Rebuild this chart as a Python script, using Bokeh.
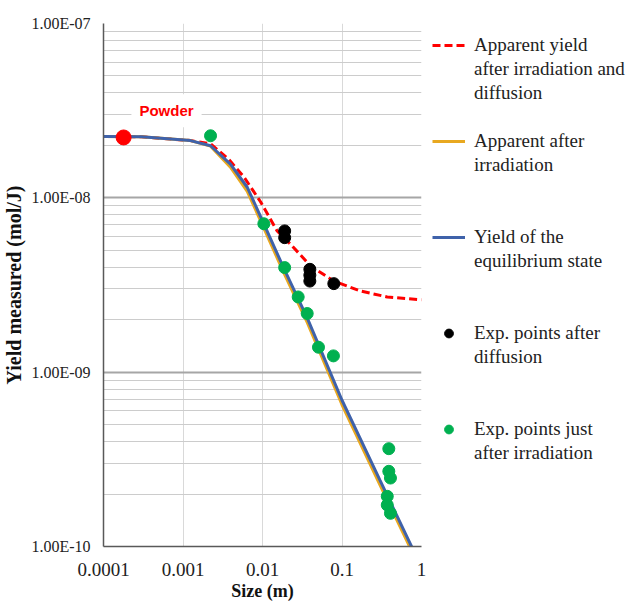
from bokeh.plotting import figure
from bokeh.models import Legend, LegendItem, Label, CustomJSTickFormatter, FixedTicker, Range1d
from bokeh.embed import file_html
from bokeh.resources import INLINE

# ---- data ----
size_model = [0.0001, 0.0003, 0.00124, 0.00222, 0.00395, 0.00643, 0.0104, 0.0185, 0.0365, 0.1, 0.3, 1.0]
yield_equilibrium = [2.25e-8, 2.24e-8, 2.13e-8, 1.99e-8, 1.56e-8, 1.15e-8, 7.1e-9, 3.95e-9, 2.05e-9, 6.9e-10, 2.4e-10, 7.6e-11]
yield_after_irr = [2.25e-8, 2.24e-8, 2.13e-8, 1.98e-8, 1.5e-8, 1.09e-8, 6.7e-9, 3.72e-9, 1.93e-9, 6.5e-10, 2.26e-10, 7.2e-11]

size_diffusion = [0.0001, 0.0003, 0.00124, 0.00222, 0.00377, 0.00582, 0.00944, 0.0153, 0.0225, 0.0402, 0.079, 0.171, 0.371, 1.0]
yield_diffusion = [2.25e-8, 2.24e-8, 2.13e-8, 2.04e-8, 1.66e-8, 1.32e-8, 9.5e-9, 6.45e-9, 5.42e-9, 4.07e-9, 3.33e-9, 2.92e-9, 2.7e-9, 2.6e-9]

exp_diff_x = [0.019, 0.019, 0.0394, 0.0394, 0.0394, 0.0789]
exp_diff_y = [6.46e-9, 5.91e-9, 3.89e-9, 3.6e-9, 3.33e-9, 3.22e-9]

exp_irr_x = [0.00222, 0.0104, 0.019, 0.0281, 0.0365, 0.0506, 0.078, 0.388, 0.388, 0.407, 0.371, 0.371, 0.407]
exp_irr_y = [2.27e-8, 7.1e-9, 3.98e-9, 2.7e-9, 2.17e-9, 1.39e-9, 1.24e-9, 3.64e-10, 2.7e-10, 2.47e-10, 1.94e-10, 1.73e-10, 1.55e-10]

powder_x = [0.000179]
powder_y = [2.22e-8]

x_ticks = [0.0001, 0.001, 0.01, 0.1, 1.0]
x_tick_labels = ["0.0001", "0.001", "0.01", "0.1", "1"]
x_tick_exps = [-4, -3, -2, -1, 0]
y_ticks = [1e-10, 1e-9, 1e-8, 1e-7]
y_tick_labels = ["1.00E-10", "1.00E-09", "1.00E-08", "1.00E-07"]
y_tick_exps = [-10, -9, -8, -7]
y_minor = [m * 10.0 ** e for e in (-10, -9, -8) for m in range(2, 10)]

legend_lines = [
    ["Apparent yield", "after irradiation and", "diffusion"],
    ["Apparent after", "irradiation"],
    ["Yield of the", "equilibrium state"],
    ["Exp. points after", "diffusion"],
    ["Exp. points just", "after irradiation"],
]
legend_gap_rows = [1, 2, 2, 2, 0]

SERIF = "Liberation Serif"

p = figure(frame_width=318, frame_height=523, x_axis_type="log", y_axis_type="log",
           x_range=Range1d(1e-4, 1.0), y_range=Range1d(1e-10, 1e-7),
           output_backend="svg", toolbar_location=None,
           min_border_left=103, min_border_right=218, min_border_top=23, min_border_bottom=60)
p.outline_line_color = None
p.background_fill_color = "white"

# ticks / formatting
p.xaxis.ticker = FixedTicker(ticks=x_ticks)
p.yaxis.ticker = FixedTicker(ticks=y_ticks, minor_ticks=y_minor)
p.xaxis.formatter = CustomJSTickFormatter(args=dict(exps=x_tick_exps, labels=x_tick_labels), code="""
const e = Math.round(Math.log10(tick)); const i = exps.indexOf(e); return i >= 0 ? labels[i] : '';
""")
p.yaxis.formatter = CustomJSTickFormatter(args=dict(exps=y_tick_exps, labels=y_tick_labels), code="""
const e = Math.round(Math.log10(tick)); const i = exps.indexOf(e); return i >= 0 ? labels[i] : '';
""")

for ax in (p.xaxis, p.yaxis):
    ax.major_tick_line_color = None
    ax.minor_tick_line_color = None
    ax.major_tick_out = 0
    ax.minor_tick_out = 0
    ax.major_tick_in = 0
    ax.minor_tick_in = 0
    ax.axis_line_color = "#595959"
    ax.axis_line_width = 1.5
    ax.major_label_text_font = SERIF
    ax.major_label_text_color = "#222222"
    ax.axis_label_text_font = SERIF
    ax.axis_label_text_font_style = "bold"
    ax.axis_label_text_color = "#111111"

p.xaxis.major_label_text_font_size = "19px"
p.yaxis.major_label_text_font_size = "16px"
p.xaxis.axis_label_text_font_size = "18px"
p.yaxis.axis_label_text_font_size = "20px"
p.xaxis.major_label_standoff = 16
p.yaxis.major_label_standoff = 13
p.xaxis.axis_label = "Size (m)"
p.yaxis.axis_label = "Yield measured (mol/J)"
p.xaxis.axis_label_standoff = 2
p.yaxis.axis_label_standoff = 3

p.xgrid.grid_line_color = "#d9d9d9"
p.xgrid.grid_line_width = 1
p.ygrid.grid_line_color = "#a6a6a6"
p.ygrid.grid_line_width = 2
p.ygrid.minor_grid_line_color = "#cccccc"
p.ygrid.minor_grid_line_width = 1

# series
r_red = p.line(size_diffusion, yield_diffusion, line_color="#ff0000", line_width=3, line_dash="8 4")
r_orange = p.line(size_model, yield_after_irr, line_color="#e8a820", line_width=3)
r_blue = p.line(size_model, yield_equilibrium, line_color="#3f62aa", line_width=3)
r_black = p.scatter(exp_diff_x, exp_diff_y, size=12, fill_color="black", line_color="black")
r_green = p.scatter(exp_irr_x, exp_irr_y, size=12, fill_color="#00b050", line_color="#00b050")
p.scatter(powder_x, powder_y, size=15, fill_color="#ff0000", line_color="#ff0000")

p.add_layout(Label(x=0.00062, y=3.16e-8, text="Powder", text_align="center", text_baseline="middle",
                   text_font="Liberation Sans", text_font_style="bold", text_font_size="15px",
                   text_color="#ff0000", background_fill_color="white", padding=8))

# legend: first line of each entry carries the glyph, other lines are text-only rows
items = []
for rend, lines, gap in zip([r_red, r_orange, r_blue, r_black, r_green], legend_lines, legend_gap_rows):
    items.append(LegendItem(label=lines[0], renderers=[rend]))
    for ln in lines[1:]:
        items.append(LegendItem(label=ln, renderers=[]))
    for _ in range(gap):
        items.append(LegendItem(label=" ", renderers=[]))

legend = Legend(items=items, location="top_left", padding=0, margin=11, border_line_color=None,
                background_fill_alpha=0, label_text_font=SERIF, label_text_font_size="19px",
                glyph_width=33, glyph_height=22, label_height=22,
                label_standoff=9, spacing=2, label_text_color="#222222")
p.add_layout(legend, "right")

open("out.html", "w").write(file_html(p, INLINE))
